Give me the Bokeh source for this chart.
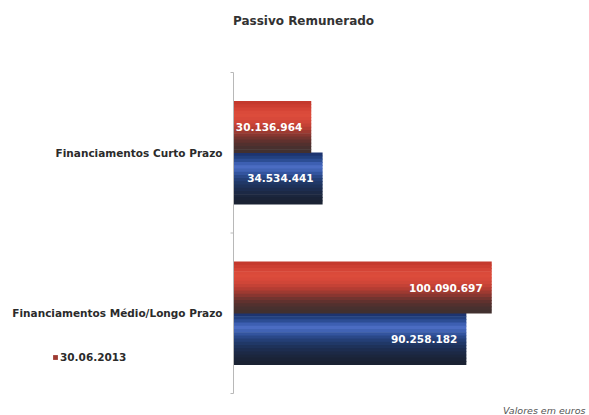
import math
from bokeh.plotting import figure
from bokeh.models import (ColumnDataSource, Range1d, LabelSet, Label, Legend, LegendItem)
from bokeh.transform import dodge
from bokeh.core.properties import value
from bokeh.embed import file_html
from bokeh.resources import INLINE

# ---- data ----
categories = ["Financiamentos Médio/Longo Prazo", "Financiamentos Curto Prazo"]
series_names = ["30.06.2013", "31.12.2012"]
values_2013 = [100090697, 30136964]
values_2012 = [90258182, 34534441]
labels_2013 = ["100.090.697", "30.136.964"]
labels_2012 = ["90.258.182", "34.534.441"]
boundaries = [0, 1, 2]

FONT = "DejaVu Sans"
W, HGT = 589, 415
X0_PX = 233                 # pixel position of value 0
PX_PER_UNIT = 258 / 100.0e6  # horizontal scale
Y_BOTTOM_PX, Y_TOP_PX = 393, 72

ypos = [i + 0.5 for i in range(len(categories))]
ncat = len(categories)
py = (Y_BOTTOM_PX - Y_TOP_PX) / ncat

p = figure(width=W, height=HGT, output_backend="svg", toolbar_location=None,
           x_range=Range1d(-X0_PX / PX_PER_UNIT, (W - X0_PX) / PX_PER_UNIT),
           y_range=Range1d(-(HGT - Y_BOTTOM_PX) / py, ncat + Y_TOP_PX / py),
           x_axis_location=None, y_axis_location=None,
           min_border=0, min_border_left=0, min_border_right=0, min_border_top=0,
           min_border_bottom=0, outline_line_color=None)
p.grid.visible = False
p.background_fill_color = "white"
p.border_fill_color = "white"

src = ColumnDataSource(dict(y=ypos, cat=categories, v13=values_2013, v12=values_2012,
                            l13=labels_2013, l12=labels_2012))

# gradient strips (top -> bottom)
red_grad = ["#c4392d", "#cc3e31", "#d44436", "#da4a3a", "#dc4c3b", "#d8493a", "#d04638",
            "#c44236", "#b43d33", "#9e3a31", "#883630", "#72342f", "#60312e", "#52302e",
            "#48302f", "#42302f"]
blue_grad = ["#1d3470", "#22407f", "#2c4d94", "#3d5fb2", "#4b6cc2", "#4163b4", "#33549e",
             "#2a4888", "#243f76", "#203867", "#1e325a", "#1d2d4f", "#1c2945", "#1b263d",
             "#1a2337", "#1a2233"]

H = 0.32
n = len(red_grad)
sh = H / n
legend_renderer = None
for i in range(n):
    off = H / 2 - sh * (i + 0.5)
    r = p.hbar(y=dodge("y", 0.16 + off), right="v13", left=0,
               height=sh + 0.004, source=src, fill_color=red_grad[i], line_color=None)
    if i == 9:
        legend_renderer = r
    p.hbar(y=dodge("y", -0.16 + off), right="v12", left=0,
           height=sh + 0.004, source=src, fill_color=blue_grad[i], line_color=None)

# value labels
for col, lab, off in (("v13", "l13", 0.16), ("v12", "l12", -0.16)):
    ls = LabelSet(x=col, y=dodge("y", off), text=lab, source=src,
                  x_offset=-9, text_align="right", text_baseline="middle",
                  text_color="white", text_font=value(FONT), text_font_style="bold",
                  text_font_size="10.5px")
    p.add_layout(ls)

# vertical category axis line and boundary ticks
p.segment(x0=0, y0=boundaries[0], x1=0, y1=boundaries[-1], line_color="#b8b8b8", line_width=1)
p.ray(x=[0] * len(boundaries), y=boundaries, length=3, length_units="screen", angle=math.pi,
      line_color="#b8b8b8", line_width=1)

# category labels
p.text(x=0, y="y", text="cat", source=src, x_offset=-11, text_align="right",
       text_baseline="middle", text_font=value(FONT), text_font_style="bold",
       text_font_size="10.5px", text_color="#2b2b2b")

# title
p.add_layout(Label(x=303, y=HGT - 20.5, x_units="screen", y_units="screen",
                   text="Passivo Remunerado", text_align="center", text_baseline="middle",
                   text_font=FONT, text_font_style="bold", text_font_size="12px",
                   text_color="#333333"))
# note
p.add_layout(Label(x=585, y=HGT - 410, x_units="screen", y_units="screen",
                   text="Valores em euros", text_align="right", text_baseline="middle",
                   text_font=FONT, text_font_style="italic", text_font_size="9.5px",
                   text_color="#555555"))

legend = Legend(items=[LegendItem(label=series_names[0], renderers=[legend_renderer])],
                location=(52, HGT - 363), padding=0, margin=0, border_line_color=None,
                background_fill_alpha=0, glyph_width=6, glyph_height=6, label_standoff=2,
                label_height=12, label_text_font=FONT, label_text_font_style="bold",
                label_text_font_size="10.5px", label_text_color="#2b2b2b")
p.add_layout(legend, "center")

open("out.html", "w").write(file_html(p, INLINE))
